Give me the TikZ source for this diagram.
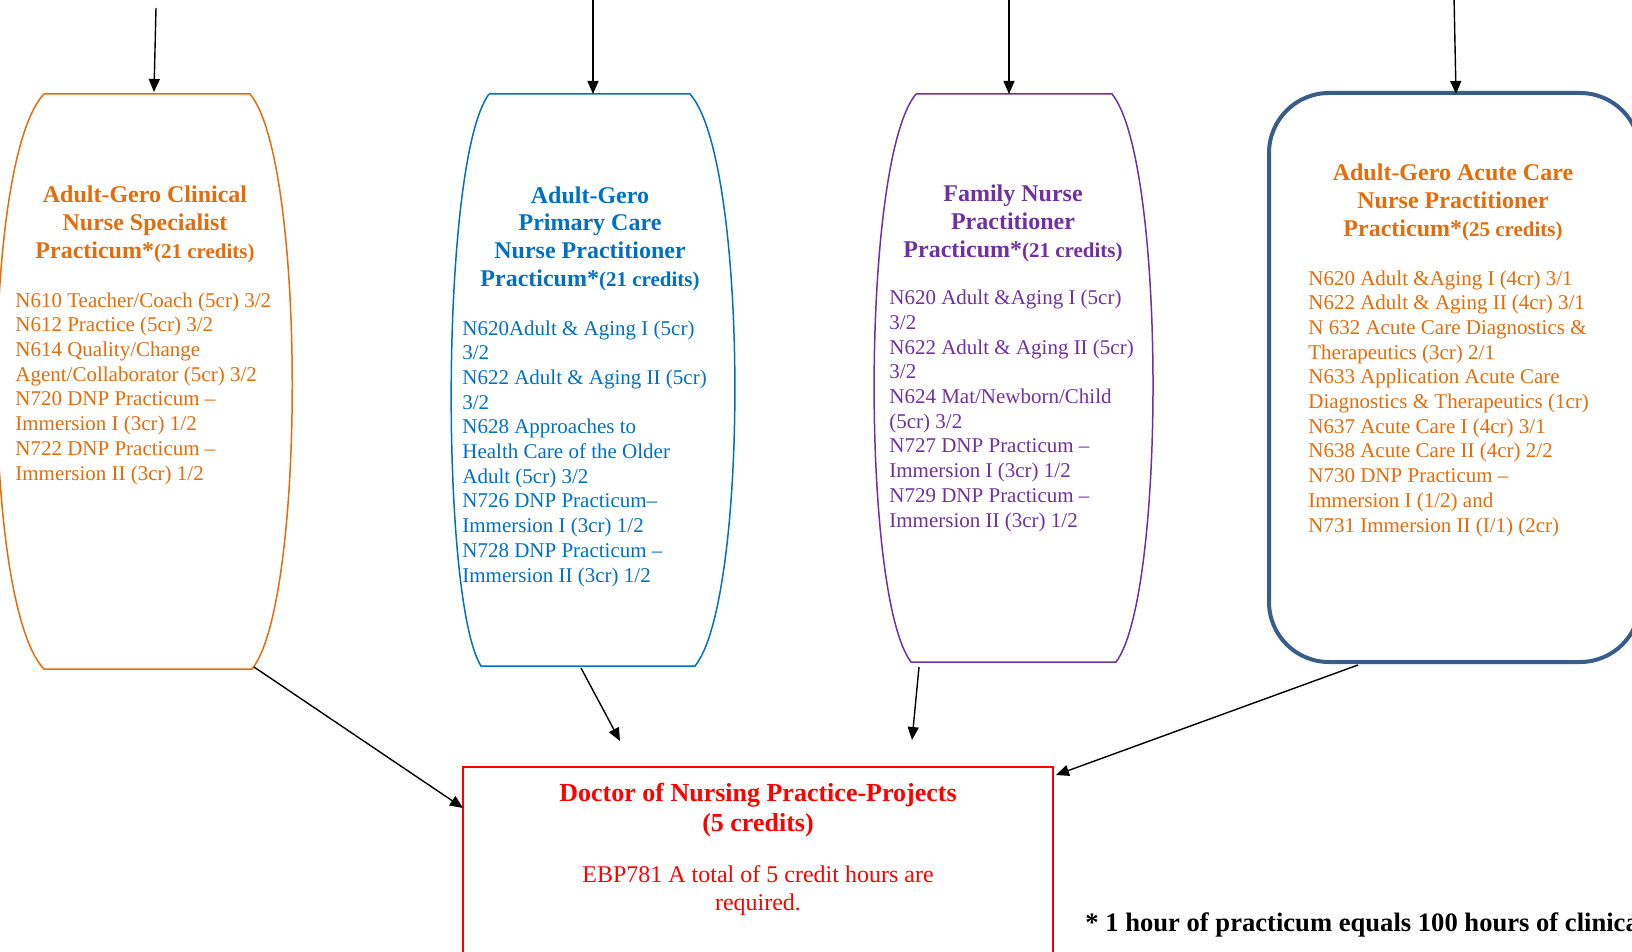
\documentclass[tikz,border=0pt]{standalone}
\usepackage{fontspec}
\setmainfont{Liberation Serif}
\usetikzlibrary{arrows.meta}
\definecolor{cnsorange}{RGB}{228,108,10}
\definecolor{pcblue}{RGB}{0,112,192}
\definecolor{fnppurple}{RGB}{112,48,160}
\definecolor{acframe}{RGB}{56,93,138}
\newcommand{\credits}[1]{{\fontsize{10.5}{12}\selectfont #1}}

\begin{document}
\begin{tikzpicture}[x=0.5pt, y=-0.5pt,
    flow/.style={-{Triangle[length=6.5pt,width=5.5pt]}, line width=0.7pt},
    head/.style={font=\bfseries\fontsize{12}{13.8}\selectfont, align=center, anchor=base, inner sep=0pt},
    body/.style={font=\fontsize{10.5}{12.35}\selectfont, align=left, anchor=base west, inner sep=0pt}]
        \useasboundingbox (0,0) rectangle (1632,952);
        \clip (0,0) rectangle (1632,952);

        \draw[cnsorange, line width=0.75pt] (44,94) -- (250,94) .. controls (306,160) and (306,603) .. (252,669)
            -- (44,669) .. controls (-19,603) and (-19,160) .. (44,94);
        \draw[pcblue, line width=0.75pt] (489,94) -- (690,94) .. controls (749,160) and (749,600) .. (695,666)
            -- (481,666) .. controls (440,600) and (440,160) .. (489,94);
        \draw[fnppurple, line width=0.75pt] (916,94) -- (1112,94) .. controls (1166,160) and (1166,596) .. (1116,662)
            -- (911,662) .. controls (861,596) and (861,160) .. (916,94);
        \draw[acframe, line width=2pt, rounded corners=30pt] (1269,93) rectangle (1640,662);
        \draw[red, line width=1pt] (463,767) rectangle (1053,1000);

        \node[head, cnsorange] (cnsHead) at (145,258) {Adult-Gero Clinical\\ Nurse Specialist\\ Practicum*\credits{(21 credits)}};
        \node[body, cnsorange] (cnsBody) at (15,480) {N610 Teacher/Coach (5cr) 3/2\\ N612 Practice (5cr) 3/2\\
            N614 Quality/Change\\ Agent/Collaborator (5cr) 3/2\\ N720 DNP Practicum --\\ Immersion I (3cr) 1/2\\
            N722 DNP Practicum --\\ Immersion II (3cr) 1/2};

        \node[head, pcblue] (pcHead) at (590,286) {Adult-Gero\\ Primary Care\\ Nurse Practitioner\\ Practicum*\credits{(21 credits)}};
        \node[body, pcblue] (pcBody) at (462,582) {N620Adult \& Aging I (5cr)\\ 3/2\\ N622 Adult \& Aging II (5cr)\\ 3/2\\
            N628 Approaches to\\ Health Care of the Older\\ Adult (5cr) 3/2\\ N726 DNP Practicum--\\
            Immersion I (3cr) 1/2\\ N728 DNP Practicum --\\ Immersion II (3cr) 1/2};

        \node[head, fnppurple] (fnpHead) at (1013,257) {Family Nurse\\ Practitioner\\ Practicum*\credits{(21 credits)}};
        \node[body, fnppurple] (fnpBody) at (889,527) {N620 Adult \&Aging I (5cr)\\ 3/2\\ N622 Adult \& Aging II (5cr)\\ 3/2\\
            N624 Mat/Newborn/Child\\ (5cr) 3/2\\ N727 DNP Practicum --\\ Immersion I (3cr) 1/2\\
            N729 DNP Practicum --\\ Immersion II (3cr) 1/2};

        \node[head, cnsorange] (acHead) at (1453,236) {Adult-Gero Acute Care\\ Nurse Practitioner\\ Practicum*\credits{(25 credits)}};
        \node[body, cnsorange] (acBody) at (1308,532) {N620 Adult \&Aging I (4cr) 3/1\\ N622 Adult \& Aging II (4cr) 3/1\\
            N 632 Acute Care Diagnostics \&\\ Therapeutics (3cr) 2/1\\ N633 Application Acute Care\\
            Diagnostics \& Therapeutics (1cr)\\ N637 Acute Care I (4cr) 3/1\\ N638 Acute Care II (4cr) 2/2\\
            N730 DNP Practicum --\\ Immersion I (1/2) and\\ N731 Immersion II (I/1) (2cr)};

        \node[head, red, font=\bfseries\fontsize{13}{15}\selectfont] (dnpHead) at (758,831) {Doctor of Nursing Practice-Projects\\ (5 credits)};
        \node[head, red, font=\fontsize{12}{14}\selectfont] (dnpBody) at (758,910) {EBP781 A total of 5 credit hours are\\ required.};

        \node[anchor=base west, inner sep=0pt, font=\bfseries\fontsize{13.3}{15}\selectfont] (note) at (1085,931)
            {* 1 hour of practicum equals 100 hours of clinical};

        \coordinate (cnsIn) at (156,8);
        \coordinate (cnsTop) at (154,92);
        \coordinate (pcIn) at (593,-4);
        \coordinate (pcTop) at (593,94);
        \coordinate (fnpIn) at (1009,-4);
        \coordinate (fnpTop) at (1009,94);
        \coordinate (acIn) at (1454,-4);
        \coordinate (acTop) at (1456,94);
        \coordinate (cnsOut) at (254,667);
        \coordinate (pcOut) at (581,668);
        \coordinate (pcEnd) at (620,741);
        \coordinate (fnpOut) at (919,667);
        \coordinate (fnpEnd) at (912,740);
        \coordinate (acOut) at (1358,665);
        \coordinate (dnpW) at (463,808);
        \coordinate (dnpE) at (1056,775);

        \draw[flow] (cnsIn) to (cnsTop);
        \draw[flow] (pcIn) to (pcTop);
        \draw[flow] (fnpIn) to (fnpTop);
        \draw[flow] (acIn) to (acTop);
        \draw[flow] (cnsOut) to (dnpW);
        \draw[flow] (pcOut) to (pcEnd);
        \draw[flow] (fnpOut) to (fnpEnd);
        \draw[flow] (acOut) to (dnpE);
    \end{tikzpicture}
\end{document}
